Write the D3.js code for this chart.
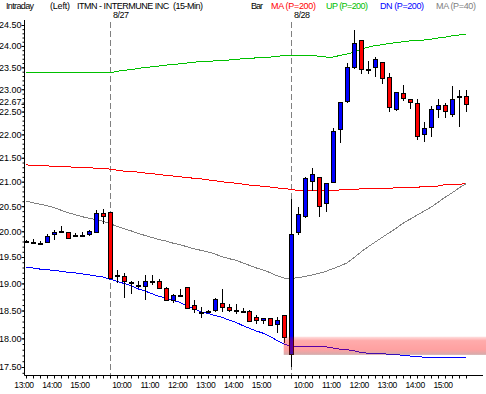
<!DOCTYPE html>
<html>
<head>
<meta charset="utf-8">
<script src="https://cdn.jsdelivr.net/npm/d3@7"></script>
<style>
body { margin: 0; background: #fff; }
text { font-family: "Liberation Sans", Arial, sans-serif; }
</style>
</head>
<body>
<div id="chart"></div>
<script>
// 15-min bars: 8/26 13:00-15:45, 8/27 and 8/28 full sessions
var open = [19.79, 19.79, 19.78, 19.80, 19.95, 20.01, 19.99, 19.93, 19.92, 19.94, 20.00, 20.37,
    20.39, 19.16, 19.14, 19.02, 18.97, 18.95, 19.05, 19.05, 18.92, 18.68, 18.79, 18.93, 18.60, 18.48, 18.49, 18.51, 18.64, 18.56, 18.51, 18.49, 18.49, 18.39, 18.32, 18.36, 18.26, 18.42,
    17.72, 19.98, 20.29, 21.02, 21.09, 20.58, 21.00, 22.11, 22.73, 23.51, 24.14, 23.47, 23.50, 23.63, 23.27, 22.57, 22.91, 22.78, 22.68, 22.00, 22.15, 22.55, 22.64, 22.44, 22.83, 22.85];
var high = [19.83, 19.85, 19.81, 19.95, 20.02, 20.10, 19.99, 19.97, 19.99, 20.02, 20.42, 20.45,
    20.39, 19.25, 19.19, 19.04, 19.04, 19.16, 19.16, 19.08, 18.93, 18.81, 18.89, 18.93, 18.70, 18.57, 18.51, 18.73, 18.89, 18.62, 18.61, 18.54, 18.51, 18.41, 18.36, 18.37, 18.39, 18.42,
    20.64, 20.49, 21.10, 21.28, 21.09, 20.98, 22.14, 22.71, 23.60, 24.38, 24.14, 23.64, 23.73, 23.63, 23.36, 22.94, 23.09, 22.78, 22.78, 22.27, 22.62, 22.78, 22.68, 23.07, 22.98, 22.98];
var low = [19.77, 19.75, 19.76, 19.77, 19.83, 19.96, 19.85, 19.88, 19.88, 19.91, 19.96, 20.15,
    19.10, 19.00, 18.73, 18.81, 18.91, 18.70, 18.97, 18.89, 18.69, 18.63, 18.77, 18.52, 18.45, 18.36, 18.45, 18.48, 18.48, 18.48, 18.44, 18.45, 18.30, 18.26, 18.26, 18.22, 18.09, 17.91,
    17.50, 19.93, 20.27, 20.81, 20.29, 20.39, 21.00, 21.81, 22.68, 23.47, 23.34, 23.34, 23.28, 23.11, 22.48, 22.51, 22.73, 22.55, 21.88, 21.84, 21.95, 22.35, 22.35, 22.38, 22.17, 22.49];
var close = [19.80, 19.79, 19.78, 19.91, 19.99, 20.01, 19.88, 19.92, 19.93, 20.00, 20.37, 20.31,
    19.10, 19.16, 19.05, 19.01, 18.97, 19.04, 19.05, 18.91, 18.70, 18.78, 18.79, 18.55, 18.52, 18.48, 18.48, 18.72, 18.57, 18.51, 18.51, 18.49, 18.30, 18.33, 18.36, 18.23, 18.33, 18.02,
    19.95, 20.34, 21.07, 21.16, 20.49, 20.98, 22.07, 22.71, 23.50, 24.08, 23.45, 23.47, 23.69, 23.27, 22.60, 22.94, 22.80, 22.71, 21.95, 22.13, 22.55, 22.64, 22.51, 22.78, 22.84, 22.67];

var ma200 = [21.35, 21.34, 21.34, 21.33, 21.32, 21.32, 21.31, 21.30, 21.30, 21.29, 21.28, 21.28,
    21.26, 21.24, 21.22, 21.21, 21.20, 21.18, 21.17, 21.15, 21.13, 21.12, 21.10, 21.09, 21.07, 21.06, 21.04, 21.02, 21.00, 20.98, 20.97, 20.95, 20.93, 20.92, 20.90, 20.89, 20.87, 20.86,
    20.84, 20.82, 20.82, 20.82, 20.82, 20.82, 20.82, 20.83, 20.83, 20.83, 20.86, 20.86, 20.86, 20.86, 20.86, 20.88, 20.88, 20.88, 20.88, 20.91, 20.91, 20.91, 20.94, 20.94, 20.94, 20.97];
var up200 = [23.37, 23.37, 23.37, 23.37, 23.37, 23.37, 23.37, 23.37, 23.37, 23.37, 23.37, 23.37,
    23.37, 23.41, 23.43, 23.45, 23.47, 23.50, 23.51, 23.53, 23.55, 23.57, 23.58, 23.60, 23.62, 23.63, 23.64, 23.65, 23.66, 23.67, 23.68, 23.70, 23.71, 23.72, 23.73, 23.74, 23.76, 23.77,
    23.77, 23.77, 23.77, 23.77, 23.76, 23.74, 23.74, 23.78, 23.81, 23.86, 23.93, 23.97, 24.01, 24.03, 24.06, 24.08, 24.10, 24.12, 24.13, 24.14, 24.16, 24.19, 24.21, 24.24, 24.26, 24.28];
var dn200 = [19.30, 19.29, 19.27, 19.26, 19.24, 19.23, 19.21, 19.20, 19.18, 19.16, 19.14, 19.12,
    19.08, 19.04, 19.00, 18.96, 18.90, 18.86, 18.81, 18.76, 18.73, 18.69, 18.65, 18.59, 18.54, 18.48, 18.45, 18.41, 18.38, 18.33, 18.29, 18.23, 18.18, 18.13, 18.09, 18.03, 17.96, 17.90,
    17.85, 17.85, 17.85, 17.85, 17.85, 17.85, 17.83, 17.81, 17.80, 17.78, 17.75, 17.74, 17.74, 17.73, 17.72, 17.72, 17.70, 17.69, 17.68, 17.67, 17.67, 17.66, 17.66, 17.66, 17.66, 17.66];
var ma40 = [20.60, 20.57, 20.54, 20.51, 20.47, 20.42, 20.37, 20.33, 20.29, 20.26, 20.23, 20.20,
    20.15, 20.10, 20.05, 20.01, 19.96, 19.92, 19.88, 19.84, 19.81, 19.77, 19.74, 19.70, 19.66, 19.63, 19.60, 19.56, 19.51, 19.47, 19.44, 19.39, 19.34, 19.29, 19.25, 19.20, 19.14, 19.10,
    19.09, 19.11, 19.13, 19.16, 19.19, 19.23, 19.28, 19.33, 19.39, 19.49, 19.60, 19.70, 19.79, 19.88, 19.97, 20.06, 20.16, 20.24, 20.32, 20.40, 20.48, 20.58, 20.68, 20.77, 20.87, 20.96];

var dayLabels = ["8/27", "8/28"];
var dayBars = [12, 38];
var timeLabels = ["13:00", "14:00", "15:00", "10:00", "11:00", "12:00", "13:00", "14:00", "15:00",
    "10:00", "11:00", "12:00", "13:00", "14:00", "15:00"];
var timeBars = [0, 4, 8, 14, 18, 22, 26, 30, 34, 40, 44, 48, 52, 56, 60];
var priceLabels = [17.5, 18, 18.5, 19, 19.5, 20, 20.5, 21, 21.5, 22, 22.5, 23, 23.5, 24, 24.5];
var lastPrice = 22.67;
var zoneTop = 18.03, zoneBottom = 17.71, zoneStartBar = 36.9;

var legendNames = ["MA (P=200)", "UP (P=200)", "DN (P=200)", "MA (P=40)"];
var legendColors = ["#ff0000", "#00c000", "#0000ff", "#808080"];

var width = 486, height = 394;
var svg = d3.select("#chart")
  .append("svg")
    .attr("width", width)
    .attr("height", height)
    .style("background", "#fff");

var x = d3.scaleLinear().domain([0, open.length - 1]).range([26, 466]);
var y = d3.scaleLog().domain([17.5, 24.5]).range([367, 25]);
var axisX = 24.5, axisY = 375.5;

// header
var head = svg.append("g").attr("font-size", 9).attr("fill", "#000");
head.append("text").attr("x", 6).attr("y", 9).attr("textLength", 28).text("Intraday");
head.append("text").attr("x", 50).attr("y", 9).attr("textLength", 20).text("(Left)");
head.append("text").attr("x", 77).attr("y", 9).attr("textLength", 126)
    .style("white-space", "pre").text("ITMN - INTERMUNE INC  (15-Min)");
head.append("text").attr("x", 251).attr("y", 9).attr("textLength", 12).text("Bar");
var legendX = [271, 326, 380, 436], legendW = [45, 42, 44, 40];
head.selectAll(".leg")
  .data(legendNames)
  .enter()
    .append("text")
    .attr("x", function(d, i) { return legendX[i]; })
    .attr("y", 9)
    .attr("textLength", function(d, i) { return legendW[i]; })
    .attr("fill", function(d, i) { return legendColors[i]; })
    .text(function(d) { return d; });

// day separators
svg.selectAll(".day")
  .data(dayBars)
  .enter()
    .append("line")
    .attr("x1", function(d) { return Math.round(x(d)) + 0.5; })
    .attr("x2", function(d) { return Math.round(x(d)) + 0.5; })
    .attr("y1", 22)
    .attr("y2", axisY)
    .attr("stroke", "#808080")
    .attr("stroke-dasharray", "6,3");
svg.selectAll(".dayLabel")
  .data(dayBars)
  .enter()
    .append("text")
    .attr("x", function(d) { return Math.round(x(d)) + 3; })
    .attr("y", 18)
    .attr("font-size", 9)
    .attr("textLength", 16)
    .text(function(d, i) { return dayLabels[i]; });

// indicator lines
var line = d3.line()
    .x(function(d, i) { return x(i); })
    .y(function(d) { return y(d); });
var series = [ma200, up200, dn200, ma40];
svg.append("g")
    .attr("fill", "none")
    .attr("shape-rendering", "crispEdges")
  .selectAll("path")
  .data(series)
  .enter()
    .append("path")
    .attr("d", line)
    .attr("stroke", function(d, i) { return legendColors[i]; })
    .attr("stroke-width", 1);

// candles
var idx = d3.range(open.length);
var cg = svg.append("g").attr("shape-rendering", "crispEdges");
cg.selectAll(".wick")
  .data(idx)
  .enter()
    .append("line")
    .attr("x1", function(i) { return Math.round(x(i)) + 0.5; })
    .attr("x2", function(i) { return Math.round(x(i)) + 0.5; })
    .attr("y1", function(i) { return y(high[i]); })
    .attr("y2", function(i) { return y(low[i]); })
    .attr("stroke", "#000");
cg.selectAll(".body")
  .data(idx)
  .enter()
    .append("rect")
    .attr("x", function(i) { return Math.round(x(i)) - 1.5; })
    .attr("width", 4)
    .attr("y", function(i) { return Math.round(y(Math.max(open[i], close[i]))) + 0.5; })
    .attr("height", function(i) {
        return Math.max(1, Math.round(Math.abs(y(open[i]) - y(close[i]))));
    })
    .attr("fill", function(i) {
        if (Math.abs(close[i] - open[i]) < 0.015) return "#000";
        return close[i] > open[i] ? "#0000ff" : "#ff0000";
    })
    .attr("stroke", "#000");

// highlighted zone
var defs = svg.append("defs");
var grad = defs.append("linearGradient")
    .attr("id", "zone").attr("x1", 0).attr("y1", 0).attr("x2", 0).attr("y2", 1);
[[0, "#ff0000", 0.12], [0.22, "#ff0000", 0.33], [0.7, "#ff0000", 0.37], [1, "#903030", 0.4]]
  .forEach(function(s) {
      grad.append("stop").attr("offset", s[0]).attr("stop-color", s[1]).attr("stop-opacity", s[2]);
  });
svg.append("rect")
    .attr("x", x(zoneStartBar))
    .attr("width", width - x(zoneStartBar))
    .attr("y", y(zoneTop))
    .attr("height", y(zoneBottom) - y(zoneTop))
    .attr("fill", "url(#zone)");

// axes
svg.append("line")
    .attr("x1", axisX).attr("x2", axisX).attr("y1", 20).attr("y2", axisY)
    .attr("stroke", "#000");
svg.append("line")
    .attr("x1", axisX).attr("x2", 483).attr("y1", axisY).attr("y2", axisY)
    .attr("stroke", "#000");

var minorTicks = d3.range(174, 246).map(function(v) { return v / 10; });
var yMinor = svg.append("g")
    .attr("transform", "translate(" + axisX + ",0)")
    .call(d3.axisLeft(y).tickValues(minorTicks).tickSize(2).tickFormat(""));
yMinor.select(".domain").remove();

var yMajor = svg.append("g")
    .attr("transform", "translate(" + axisX + ",0)")
    .call(d3.axisLeft(y).tickValues(priceLabels.concat([lastPrice])).tickSize(3).tickPadding(0)
        .tickFormat(d3.format(".2f")));
yMajor.select(".domain").remove();
yMajor.selectAll("text")
    .attr("font-size", 9)
    .attr("font-family", "Liberation Sans, Arial, sans-serif")
    .attr("fill", "#000");
yMajor.selectAll(".tick")
    .filter(function(d) { return d === lastPrice; })
    .select("text")
    .attr("dy", "0.1em");
yMajor.selectAll("line").attr("stroke", "#000");
yMinor.selectAll("line").attr("stroke", "#000");

var xTicks = svg.append("g")
    .attr("transform", "translate(0," + axisY + ")")
    .call(d3.axisBottom(x).tickValues(idx).tickSize(3).tickFormat("")
        .tickSizeOuter(0));
xTicks.select(".domain").remove();
xTicks.selectAll(".tick").attr("transform", function(i) {
    return "translate(" + (Math.round(x(i)) + 0.5) + ",0)";
});

var xLabels = svg.append("g")
    .attr("transform", "translate(0," + axisY + ")")
    .call(d3.axisBottom(x).tickValues(timeBars).tickSize(0).tickPadding(6)
        .tickFormat(function(d, i) { return timeLabels[i]; }));
xLabels.select(".domain").remove();
xLabels.selectAll("text")
    .attr("font-size", 8.5)
    .attr("font-family", "Liberation Sans, Arial, sans-serif")
    .attr("fill", "#000")
    .attr("letter-spacing", -0.4)
    .attr("dx", -2.5);
</script>
</body>
</html>
